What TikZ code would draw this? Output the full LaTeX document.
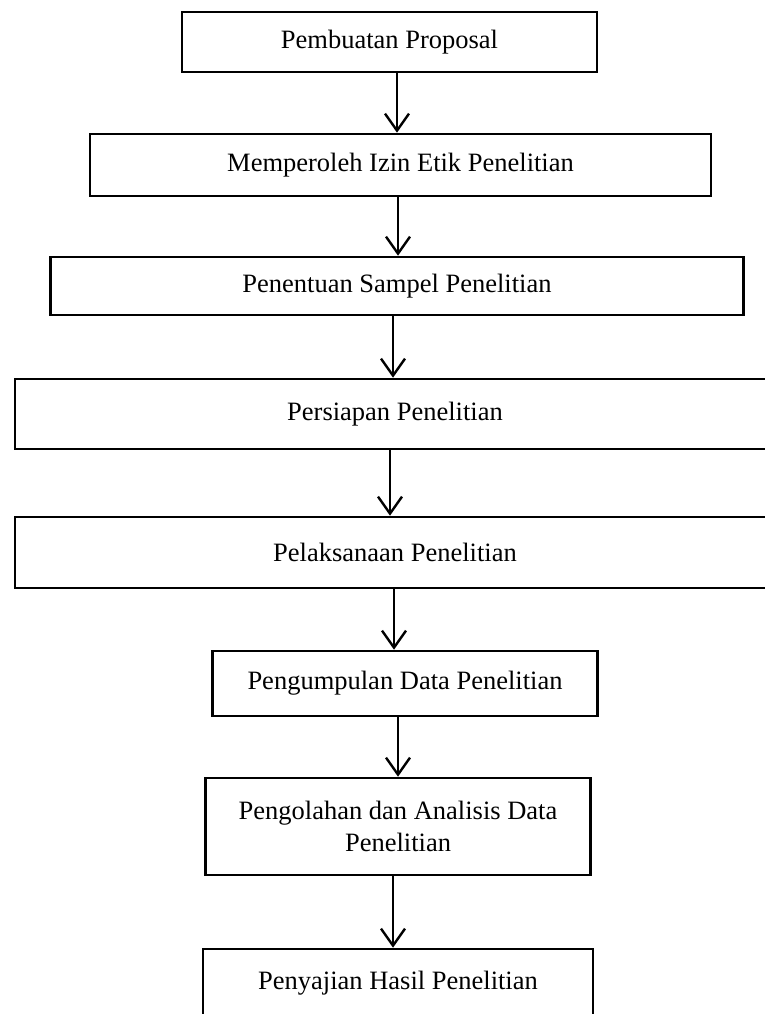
\documentclass[tikz,border=0pt]{standalone}
\usepackage{fontspec}
\setmainfont{Liberation Serif}
\usepackage{tikz}
\usetikzlibrary{arrows.meta}
\tikzstyle{link} = [coordinate]
\tikzstyle{block} = [draw, rectangle, line width=2.6pt, inner sep=0pt, align=center, font=\fontsize{26.5}{32}\selectfont]

\begin{document}
\begin{tikzpicture}[x=1pt, y=-1pt, line width=2.4pt, >={Straight Barb[length=17pt,width=24pt]}]
		\useasboundingbox (0,0) rectangle (765,1014);
		\clip (0,0) rectangle (765,1014);
		\node [block, minimum width=415pt, minimum height=60pt] (proposal) at (389.5,42) {Pembuatan Proposal};
		\node [block, minimum width=621pt, minimum height=62pt] (izin) at (400.5,165) {Memperoleh Izin Etik Penelitian};
		\node [block, minimum width=693pt, minimum height=58pt] (sampel) at (397,286) {Penentuan Sampel Penelitian};
		\node [block, minimum width=760pt, minimum height=70pt] (persiapan) at (395,414) {Persiapan Penelitian};
		\node [block, minimum width=760pt, minimum height=71pt] (pelaksanaan) at (395,552.5) {Pelaksanaan Penelitian};
		\node [block, minimum width=385pt, minimum height=65pt] (pengumpulan) at (405,683.5) {Pengumpulan Data Penelitian};
		\node [block, minimum width=385pt, minimum height=97pt] (pengolahan) at (398,826.5) {Pengolahan dan Analisis Data\\Penelitian};
		\node [block, minimum width=390pt, minimum height=68pt] (penyajian) at (398,983) {Penyajian Hasil Penelitian};

		\node [link] (a1) at (397,0) {};
		\node [link] (a2) at (398,0) {};
		\node [link] (a3) at (393,0) {};
		\node [link] (a4) at (390,0) {};
		\node [link] (a5) at (394,0) {};
		\node [link] (a6) at (398,0) {};
		\node [link] (a7) at (393,0) {};

		\draw [->] (a1 |- proposal.south) -- (a1 |- izin.north);
		\draw [->] (a2 |- izin.south) -- (a2 |- sampel.north);
		\draw [->] (a3 |- sampel.south) -- (a3 |- persiapan.north);
		\draw [->] (a4 |- persiapan.south) -- (a4 |- pelaksanaan.north);
		\draw [->] (a5 |- pelaksanaan.south) -- (a5 |- pengumpulan.north);
		\draw [->] (a6 |- pengumpulan.south) -- (a6 |- pengolahan.north);
		\draw [->] (a7 |- pengolahan.south) -- (a7 |- penyajian.north);
	\end{tikzpicture}
\end{document}
